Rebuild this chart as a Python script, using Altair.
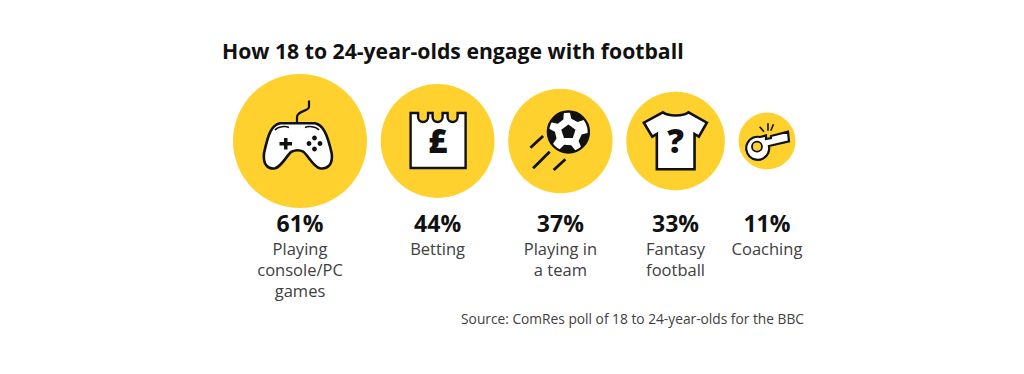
import math
import altair as alt
import pandas as pd

title = "How 18 to 24-year-olds engage with football"
categories = ["Playing console/PC games", "Betting", "Playing in a team", "Fantasy football", "Coaching"]
values = [61, 44, 37, 33, 11]
label_lines = ["Playing\nconsole/PC\ngames", "Betting", "Playing in\na team", "Fantasy\nfootball", "Coaching"]
source = "Source: ComRes poll of 18 to 24-year-olds for the BBC"

FONT = "Open Sans"
YELLOW = "#FFD12F"
INK = "#111111"
GREY = "#404040"

# layout: circles of area proportional to value, side by side with a fixed gap
R_MAX, GAP, FIRST_X, TOP = 67, 13.7, 292, 68
radii = [R_MAX * math.sqrt(v / max(values)) for v in values]
xs = [FIRST_X]
for a, b in zip(radii, radii[1:]):
    xs.append(xs[-1] + a + GAP + b)

df = pd.DataFrame({
    "category": categories, "value": values, "x": xs,
    "pct": [f"{v}%" for v in values], "label": label_lines,
})

def circ(cx, cy, r):
    return f"M {cx-r} {cy} A {r} {r} 0 1 1 {cx+r} {cy} A {r} {r} 0 1 1 {cx-r} {cy} Z"

def patch(cx, cy, ang, R=21, inner=10.5, half=25):
    p = lambda a, r: (cx + r * math.cos(math.radians(a)), cy + r * math.sin(math.radians(a)))
    a1, a2, m1, m2 = p(ang - half, R), p(ang + half, R), p(ang - half * .6, inner + 3), p(ang + half * .6, inner + 3)
    return (f"M {a1[0]:.1f} {a1[1]:.1f} A {R} {R} 0 0 1 {a2[0]:.1f} {a2[1]:.1f} "
            f"L {m2[0]:.1f} {m2[1]:.1f} L {m1[0]:.1f} {m1[1]:.1f} Z")

def pentagon(cx, cy, r):
    pts = [(cx + r * math.cos(math.radians(-90 + 72 * i)), cy + r * math.sin(math.radians(-90 + 72 * i))) for i in range(5)]
    return "M " + " L ".join(f"{a:.1f} {b:.1f}" for a, b in pts) + " Z"

pad = [
    "M -20 -17.7 L 15 -17.7 C 23 -16 27 -8 31.7 12.3 C 33.3 24 27 28.3 20 27.3 C 13 25.7 8 14 3.3 10.7 C 0 9 -5 9 -8.3 10.7 "
    "C -13.3 14 -18.3 25.7 -25 27.3 C -31.7 28.3 -37.3 24 -36 12.3 C -31.7 -7.7 -28.3 -16 -20 -17.7 Z",
]
rows = [
    (0, "M -3 -17.7 L -3 -24 C -3 -30 9 -30 9 -34 L 9 -40.5", "none", INK, 2.2),
    (0, pad[0], "white", INK, 2.6),
    (0, "M -25 -11 C -22 -15 -14 -15 -11 -13.5", "none", INK, 1.6),
    (0, "M 19 -11 C 16 -15 8 -15 5 -13.5", "none", INK, 1.6),
    (0, "M -20.5 1 L -16 1 L -16 -3 L -12.5 -3 L -12.5 1 L -8 1 L -8 4.5 L -12.5 4.5 L -12.5 8.5 L -16 8.5 L -16 4.5 L -20.5 4.5 Z", "#111111", "none", 0),
    (0, circ(14.5, -3, 2.4) + circ(14.5, 8, 2.4) + circ(9, 2.5, 2.4) + circ(20, 2.5, 2.4), "#111111", "none", 0),
    (1, "M -27 -28 L -19.5 -28 L -19.5 -24 A 5 5 0 0 0 -9.5 -24 L -9.5 -28 L -5 -28 L -5 -24 A 5 5 0 0 0 5 -24 L 5 -28 L 10 -28 L 10 -24 "
        "A 5 5 0 0 0 20 -24 L 20 -28 L 28 -28 L 28 27 L -27 27 Z", "white", INK, 2.4),
    (2, "M -30 6.7 L -17.3 -5", "none", INK, 2.8),
    (2, "M -27.3 27.3 L -10.7 10.7", "none", INK, 2.8),
    (2, "M -6.7 29 L 5 18.3", "none", INK, 2.8),
    (2, circ(8, -9, 20.5), "white", INK, 2.4),
    (2, pentagon(8, -9, 7.5), "#111111", "none", 0),
] + [(2, patch(8, -9, a), "#111111", "none", 0) for a in (-127, -62, 26, 93, 166)] + [
    (3, "M -12.7 -28.7 C -8 -24.5 8 -24.5 13 -28.7 L 31.3 -18.3 L 23.3 -4.3 L 19 -7 L 19 28.3 L -18.7 28.3 L -18.7 -7 L -23.3 -4.3 L -31.7 -18.3 Z",
     "white", INK, 2.6),
    (4, "M -7 -4 L -1 -5.5 L -1 -2 L 4 -3 L 4 -5 L 21 -9.3 L 22 0.3 L 2 5 A 11.5 11.5 0 1 1 -7 -4 Z", "white", INK, 2.2),
    (4, circ(-10, 5.7, 5), YELLOW, INK, 1.8),
    (4, "M -3 -9.3 L -7.3 -14.3", "none", INK, 1.6),
    (4, "M 1 -10.3 L 1 -17.7", "none", INK, 1.6),
    (4, "M 3.8 -10.3 L 6.5 -16.7", "none", INK, 1.6),
]
icons = pd.DataFrame([
    {"x": xs[i], "path": p, "fill": f, "stroke": s, "sw": w, "order": n}
    for n, (i, p, f, s, w) in enumerate(rows)
])
glyphs = pd.DataFrame({"x": [xs[1], xs[3]], "glyph": ["£", "?"]})

X = alt.X("x:Q", scale=alt.Scale(domain=[0, 1008], range=[0, 1008]), axis=None)
CY = 141 - TOP

circles = alt.Chart(df).mark_circle(color=YELLOW, opacity=1).encode(
    x=X, y=alt.value(CY),
    size=alt.Size("value:Q", legend=None, scale=alt.Scale(domain=[0, max(values)], range=[0, (2 * R_MAX) ** 2])),
)
icon_layer = alt.Chart(icons).mark_point(filled=True, opacity=1).encode(
    x=X, y=alt.value(CY), size=alt.value(4),
    shape=alt.Shape("path:N", scale=None, legend=None),
    fill=alt.Fill("fill:N", scale=None),
    stroke=alt.Stroke("stroke:N", scale=None),
    strokeWidth=alt.StrokeWidth("sw:Q", scale=None),
    order="order:Q",
)
glyph_layer = alt.Chart(glyphs).mark_text(font=FONT, fontWeight=800, fontSize=33, color=INK, baseline="middle").encode(
    x=X, y=alt.value(CY + 2), text="glyph:N",
)
pct = alt.Chart(df).mark_text(font=FONT, fontWeight=700, fontSize=23, color=INK, baseline="middle").encode(
    x=X, y=alt.value(225 - TOP), text="pct:N",
)
labels = alt.Chart(df).mark_text(font=FONT, fontSize=16.5, color=GREY, baseline="middle", lineBreak="\n", lineHeight=21).encode(
    x=X, y=alt.value(250 - TOP), text="label:N",
)
src = alt.Chart(pd.DataFrame({"t": [source]})).mark_text(font=FONT, fontSize=13.75, color=GREY, align="right", baseline="middle").encode(
    x=alt.value(804 - 8), y=alt.value(320 - TOP), text="t:N",
)

chart = alt.layer(circles, icon_layer, glyph_layer, pct, labels, src).properties(
    width=1008, height=290,
    padding={"left": 0, "right": 0, "top": TOP - 8, "bottom": 0},
    autosize=alt.AutoSizeParams(type="none"),
    background="white",
    title=alt.TitleParams(title, anchor="start", frame="group", dx=214, offset=5,
                          font=FONT, fontSize=21.2, fontWeight=700, color=INK),
).configure_view(stroke=None)

chart.save("out.html", embed_options={"renderer": "svg", "actions": False})
